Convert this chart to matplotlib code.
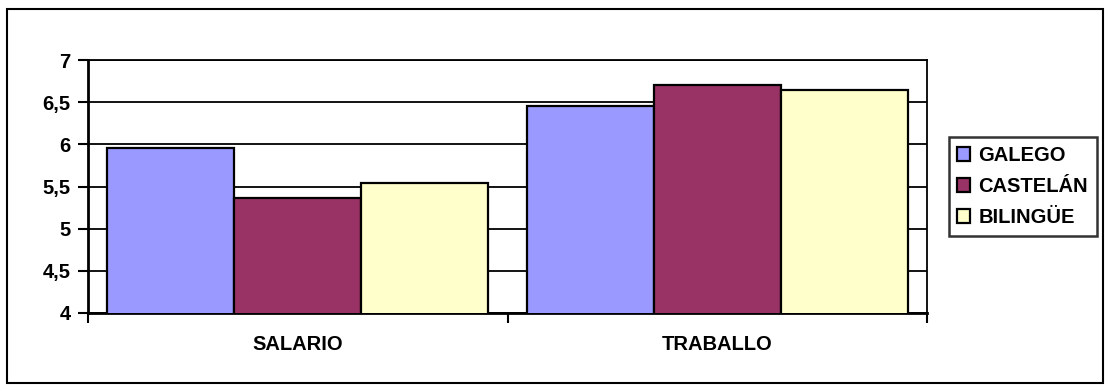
import numpy as np
import matplotlib.pyplot as plt
from matplotlib.patches import Rectangle
from matplotlib.ticker import FuncFormatter, FixedLocator

categorias = ["SALARIO", "TRABALLO"]
series = ["GALEGO", "CASTELÁN", "BILINGÜE"]
galego = [5.96, 6.45]
castelan = [5.36, 6.70]
bilingue = [5.54, 6.64]
cores = ["#9999FF", "#993366", "#FFFFCC"]

plt.rcParams["font.family"] = ["Liberation Sans", "DejaVu Sans"]
plt.rcParams["font.weight"] = "bold"

fig = plt.figure(figsize=(11.11, 3.91), dpi=100)
# marco exterior do gráfico
fig.patches.append(Rectangle((0.0065, 0.02), 0.986, 0.957, transform=fig.transFigure,
                             fill=False, edgecolor="black", linewidth=1.5))

ax = fig.add_axes([0.0792, 0.1995, 0.7552, 0.647])
x = np.arange(len(categorias))
w = 0.303
valores = [galego, castelan, bilingue]
for i, (nome, vals) in enumerate(zip(series, valores)):
    ax.bar(x + (i - 1) * w, vals, w, color=cores[i], edgecolor="black",
           linewidth=1.6, label=nome, zorder=3)

ax.set_xlim(-0.5, 1.5)
ax.set_ylim(4, 7)
ax.set_yticks(np.arange(4, 7.01, 0.5))
ax.yaxis.set_major_formatter(FuncFormatter(lambda v, p: ("%g" % v).replace(".", ",")))
ax.yaxis.grid(True, color="black", linewidth=1.3, zorder=0)

ax.set_xticks(x)
ax.set_xticklabels(categorias)
ax.tick_params(axis="x", which="major", length=0, pad=16, labelsize=14.5)
ax.xaxis.set_minor_locator(FixedLocator([-0.5, 0.5, 1.5]))
ax.tick_params(axis="x", which="minor", length=7, width=1.5, direction="out")
ax.tick_params(axis="y", length=7, width=1.5, direction="out", labelsize=14.5, pad=5.5)

for lado in ["left", "bottom"]:
    ax.spines[lado].set_linewidth(2)
for lado in ["top", "right"]:
    ax.spines[lado].set_linewidth(1.3)

leg = ax.legend(loc="center left", bbox_to_anchor=(1.026, 0.5), frameon=True,
                fancybox=False, edgecolor="black", fontsize=14.5,
                handlelength=0.65, handleheight=0.65, handletextpad=0.4,
                labelspacing=0.6, borderpad=0.42, borderaxespad=0)
leg.get_frame().set_linewidth(1.8)

fig.savefig("out.png", dpi=100)
